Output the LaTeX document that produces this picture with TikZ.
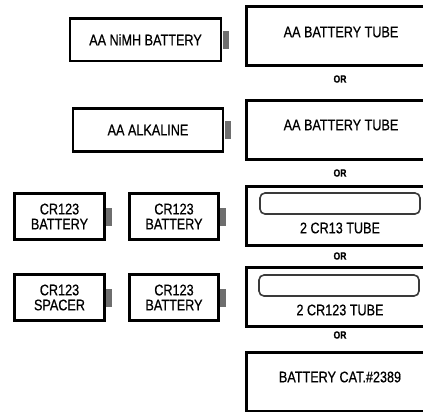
\documentclass[tikz,border=0pt]{standalone}
\usepackage{fontspec}
\setmainfont{Liberation Sans}[FakeStretch=0.82,FakeBold=0.6]
\definecolor{termgray}{HTML}{6E6E6E}
\definecolor{innergray}{HTML}{3A3A3A}
\begin{document}
\begin{tikzpicture}[x=1bp,y=-1bp,
  batt/.style={draw=black,line width=2.6bp,fill=white,inner sep=0pt,align=center,
    font=\fontsize{15.4bp}{15bp}\selectfont},
  term/.style={fill=termgray,inner sep=0pt,minimum width=6bp,minimum height=18bp,anchor=west},
  tube/.style={draw=black,line width=2.8bp,inner sep=0pt,minimum width=190bp,minimum height=59bp},
  inner/.style={draw=innergray,line width=1.6bp,rounded corners=5bp,inner sep=0pt,minimum height=21bp,minimum width=160bp},
  lbl/.style={inner sep=0pt,font=\fontsize{15.4bp}{15bp}\selectfont},
  ortext/.style={inner sep=0pt,font=\fontsize{10.5bp}{10.5bp}\selectfont\bfseries}]
\clip (0,0) rectangle (423,412);
\useasboundingbox (0,0) rectangle (423,412);
% left batteries
\node[batt,minimum width=151bp,minimum height=42.5bp] (nimh) at (145.5,39.75) {AA NiMH BATTERY};
\node[term] (nimht) at (nimh.east) {};
\node[batt,minimum width=150bp,minimum height=42.5bp] (alk) at (148,130) {AA ALKALINE};
\node[term] (alkt) at (alk.east) {};
\node[batt,minimum width=90bp,minimum height=46bp] (cra) at (59.5,216.5) {CR123\\BATTERY};
\node[term] (crat) at (cra.east) {};
\node[batt,minimum width=89bp,minimum height=46bp] (crb) at (174,216.5) {CR123\\BATTERY};
\node[term] (crbt) at (crb.east) {};
\node[batt,minimum width=90bp,minimum height=46bp] (crc) at (59.5,297.5) {CR123\\SPACER};
\node[term] (crct) at (crc.east) {};
\node[batt,minimum width=89bp,minimum height=46bp] (crd) at (174,297.5) {CR123\\BATTERY};
\node[term] (crdt) at (crd.east) {};
% tubes
\node[tube] (t1) at (341.5,36) {};
\node[lbl] (t1l) at (341,32) {AA BATTERY TUBE};
\node[ortext] (or1) at (340,79) {OR};
\node[tube] (t2) at (341.5,130) {};
\node[lbl] (t2l) at (341,125) {AA BATTERY TUBE};
\node[ortext] (or2) at (340,173) {OR};
\node[tube] (t3) at (341.5,216) {};
\node[inner] (t3i) at (340,203.5) {};
\node[lbl] (t3l) at (340,228) {2 CR13 TUBE};
\node[ortext] (or3) at (340,256) {OR};
\node[tube] (t4) at (341.5,297) {};
\node[inner] (t4i) at (339,285.5) {};
\node[lbl] (t4l) at (340,310) {2 CR123 TUBE};
\node[ortext] (or4) at (340,335) {OR};
\node[tube] (t5) at (341.5,382) {};
\node[lbl] (t5l) at (340,377) {BATTERY CAT.\#2389};
\end{tikzpicture}
\end{document}
